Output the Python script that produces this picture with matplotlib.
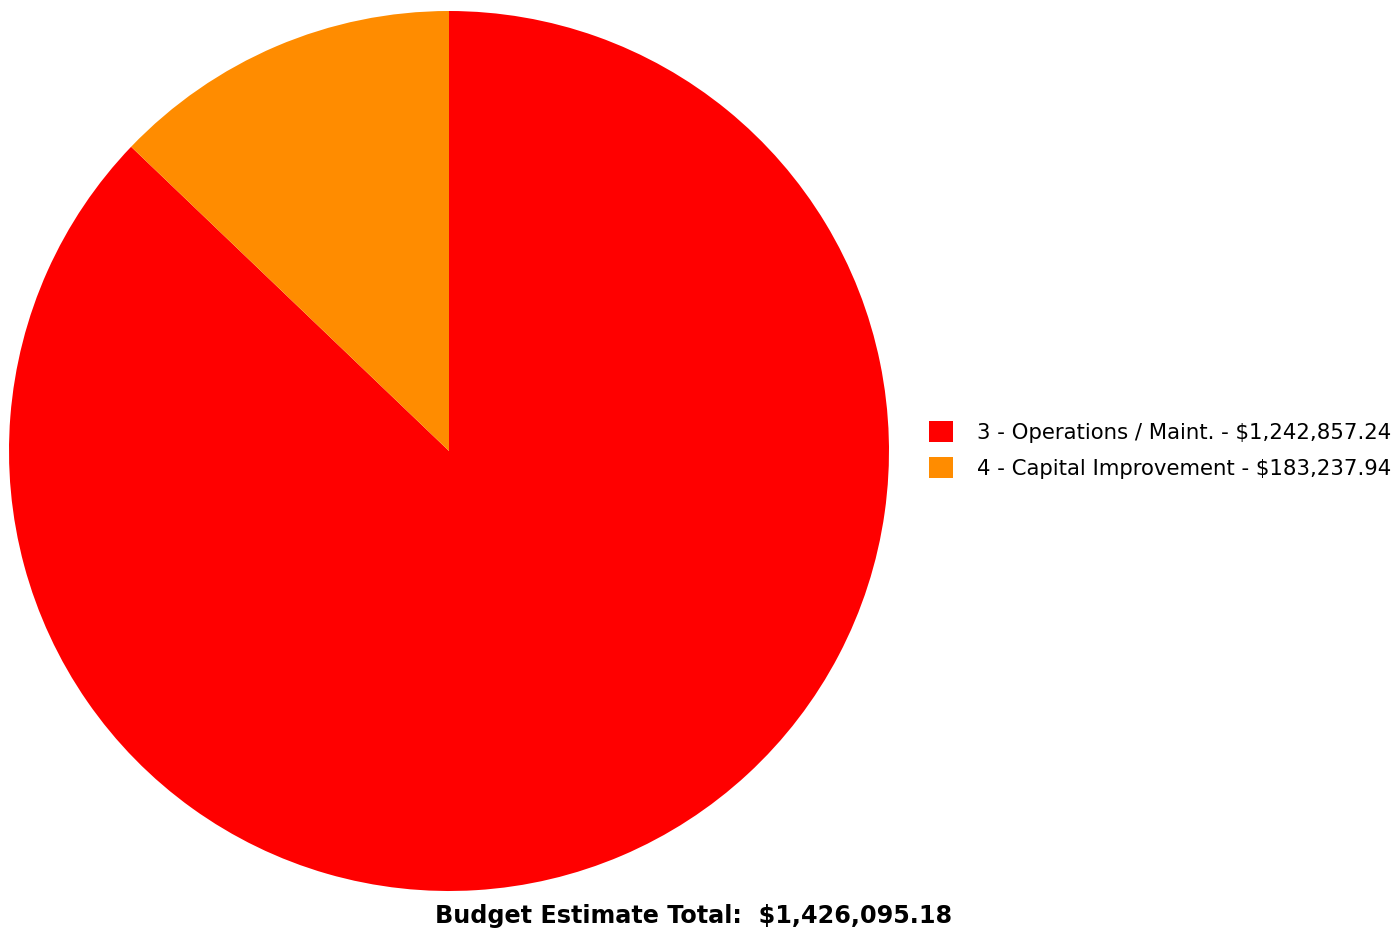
import matplotlib
matplotlib.use("Agg")
import matplotlib.pyplot as plt

categories = ["3 - Operations / Maint.", "4 - Capital Improvement"]
amounts = [1242857.24, 183237.94]
colors = ["#ff0000", "#ff8c00"]

W, H = 1398, 931
fig = plt.figure(figsize=(W / 100, H / 100), dpi=100)

# pie area in pixels: left 9, top 11, diameter 880
ax = fig.add_axes([9 / W, 1 - 891 / H, 880 / W, 880 / H])
wedges, _ = ax.pie(amounts, colors=colors, startangle=90, counterclock=False,
                   wedgeprops=dict(linewidth=0))
ax.set_xlim(-1, 1)
ax.set_ylim(-1, 1)
ax.set_aspect("equal")

labels = [f"{c} - ${v:,.2f}" for c, v in zip(categories, amounts)]
leg = fig.legend(wedges, labels, loc="upper left",
                 bbox_to_anchor=(929 / W, 1 - 421 / H), frameon=False,
                 prop=dict(family="DejaVu Sans", size=15.3),
                 handlelength=1.13, handleheight=1.13, handletextpad=1.13,
                 labelspacing=0.68, borderpad=0, borderaxespad=0)

total = sum(amounts)
fig.text(694 / W, 1 - 916 / H, f"Budget Estimate Total:  ${total:,.2f}",
         ha="center", va="center", fontsize=17.2, fontweight="bold",
         family="DejaVu Sans")

fig.savefig("out.png", dpi=100)
